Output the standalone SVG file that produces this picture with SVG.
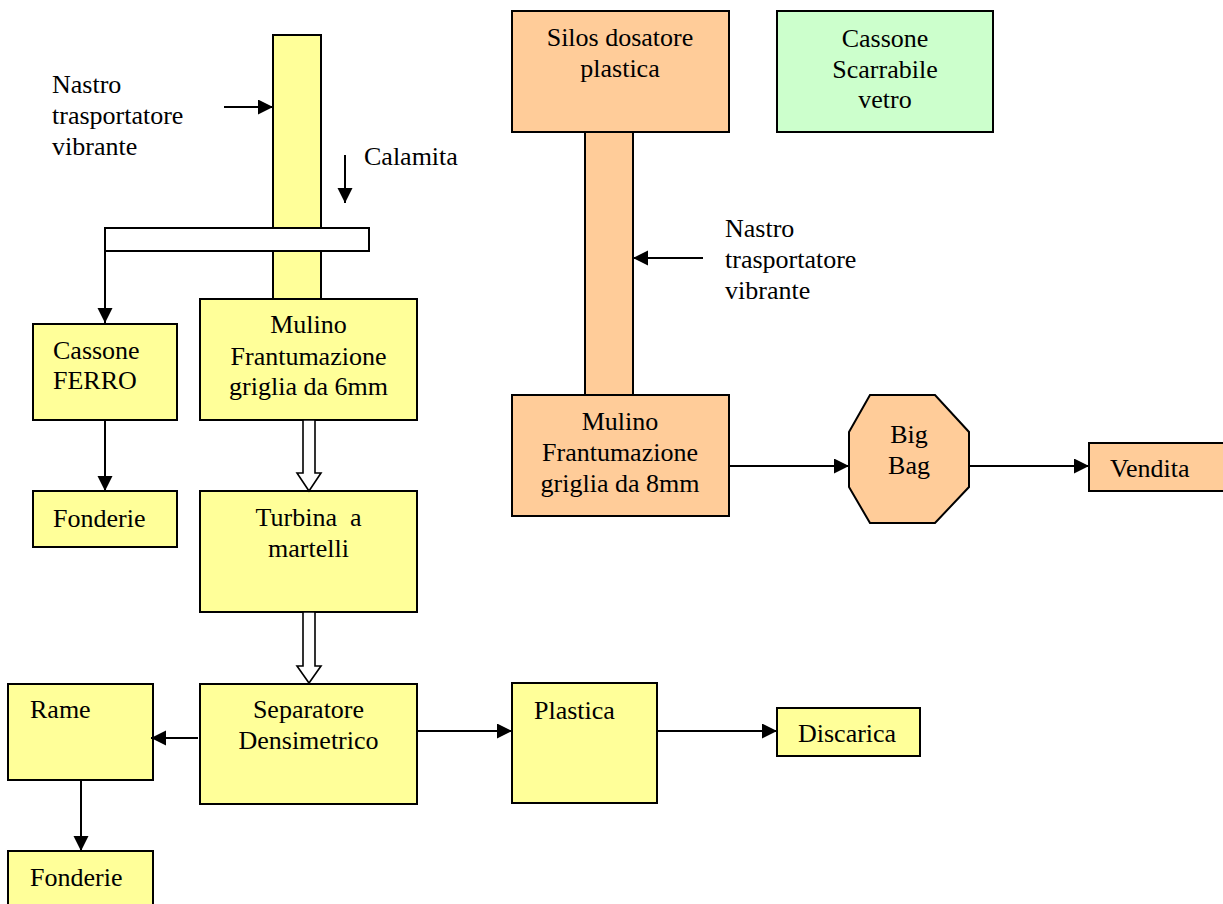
<svg xmlns="http://www.w3.org/2000/svg" width="1223" height="904" viewBox="0 0 1223 904">
<defs>
<style>
text{font-family:"Liberation Serif","Times New Roman",serif;font-size:26px;fill:#000}
.c{text-anchor:middle}
.y{fill:#FFFF99;stroke:#000;stroke-width:2}
.o{fill:#FFCC99;stroke:#000;stroke-width:2}
.g{fill:#CCFFCC;stroke:#000;stroke-width:2}
.w{fill:#fff;stroke:#000;stroke-width:2}
.ln{stroke:#000;stroke-width:2;fill:none}
.ha{fill:#fff;stroke:#000;stroke-width:1.6}
</style>
<marker id="ah" markerUnits="userSpaceOnUse" markerWidth="16" markerHeight="16" refX="15" refY="7.5" orient="auto">
<path d="M0,0 L15,7.5 L0,15 z" fill="#000"/>
</marker>
</defs>

<g id="colonna-sinistra"><rect class="y" x="273" y="35" width="48" height="264"/></g>
<g id="nastro-calamita"><rect class="w" x="105" y="228" width="264" height="23"/></g>
<g id="mulino6"><rect class="y" x="200" y="299" width="217" height="121"/>
<text class="c" x="308.5" y="333">Mulino</text><text class="c" x="308.5" y="365">Frantumazione</text><text class="c" x="308.5" y="395">griglia da 6mm</text></g>
<g id="cassone-ferro"><rect class="y" x="33" y="324" width="144" height="96"/>
<text x="53" y="359">Cassone</text><text x="53" y="389">FERRO</text></g>
<g id="fonderie1"><rect class="y" x="33" y="491" width="144" height="56"/>
<text x="53" y="527">Fonderie</text></g>
<g id="turbina"><rect class="y" x="200" y="491" width="217" height="121"/>
<text class="c" x="308.5" y="526" xml:space="preserve">Turbina  a</text><text class="c" x="308.5" y="557">martelli</text></g>
<g id="separatore"><rect class="y" x="200" y="684" width="217" height="120"/>
<text class="c" x="308.5" y="718">Separatore</text><text class="c" x="308.5" y="749">Densimetrico</text></g>
<g id="rame"><rect class="y" x="8" y="684" width="145" height="96"/>
<text x="30" y="718">Rame</text></g>
<g id="fonderie2"><rect class="y" x="8" y="851" width="145" height="60"/>
<text x="30" y="886">Fonderie</text></g>
<g id="plastica"><rect class="y" x="512" y="683" width="145" height="120"/>
<text x="534" y="719">Plastica</text></g>
<g id="discarica"><rect class="y" x="777" y="708" width="143" height="48"/>
<text x="798" y="742">Discarica</text></g>

<g id="colonna-destra"><rect class="o" x="585" y="132" width="48" height="263"/></g>
<g id="silos"><rect class="o" x="512" y="11" width="217" height="121"/>
<text class="c" x="620" y="46">Silos dosatore</text><text class="c" x="620" y="77">plastica</text></g>
<g id="cassone-vetro"><rect class="g" x="777" y="11" width="216" height="121"/>
<text class="c" x="885" y="47">Cassone</text><text class="c" x="885" y="78">Scarrabile</text><text class="c" x="885" y="108">vetro</text></g>
<g id="mulino8"><rect class="o" x="512" y="395" width="217" height="121"/>
<text class="c" x="620" y="430">Mulino</text><text class="c" x="620" y="461">Frantumazione</text><text class="c" x="620" y="492">griglia da 8mm</text></g>
<g id="bigbag"><polygon class="o" points="870,395 935,395 969,432 969,487 935,523 870,523 849,487 849,432"/>
<text class="c" x="909" y="443">Big</text><text class="c" x="909" y="474">Bag</text></g>
<g id="vendita"><rect class="o" x="1089" y="443" width="140" height="48"/>
<text x="1110" y="477">Vendita</text></g>

<g id="etichette">
<text x="52" y="93">Nastro</text><text x="52" y="124">trasportatore</text><text x="52" y="155">vibrante</text>
<text x="364" y="165">Calamita</text>
<text x="725" y="237">Nastro</text><text x="725" y="268">trasportatore</text><text x="725" y="299">vibrante</text>
</g>

<g id="connettori">
<line class="ln" x1="224" y1="107" x2="273" y2="107" marker-end="url(#ah)"/>
<line class="ln" x1="345" y1="155" x2="345" y2="203" marker-end="url(#ah)"/>
<line class="ln" x1="105" y1="251" x2="105" y2="323" marker-end="url(#ah)"/>
<line class="ln" x1="105" y1="420" x2="105" y2="491" marker-end="url(#ah)"/>
<line class="ln" x1="81" y1="780" x2="81" y2="851" marker-end="url(#ah)"/>
<line class="ln" x1="198" y1="738" x2="151" y2="738" marker-end="url(#ah)"/>
<line class="ln" x1="417" y1="731" x2="512" y2="731" marker-end="url(#ah)"/>
<line class="ln" x1="657" y1="731" x2="777" y2="731" marker-end="url(#ah)"/>
<line class="ln" x1="703" y1="258" x2="633" y2="258" marker-end="url(#ah)"/>
<line class="ln" x1="729" y1="466" x2="849" y2="466" marker-end="url(#ah)"/>
<line class="ln" x1="969" y1="466" x2="1089" y2="466" marker-end="url(#ah)"/>
<polygon class="ha" points="303,420 315,420 315,473 321,473 309,491 297,473 303,473"/>
<polygon class="ha" points="303,612 315,612 315,666 321,666 309,683 297,666 303,666"/>
</g>
</svg>
